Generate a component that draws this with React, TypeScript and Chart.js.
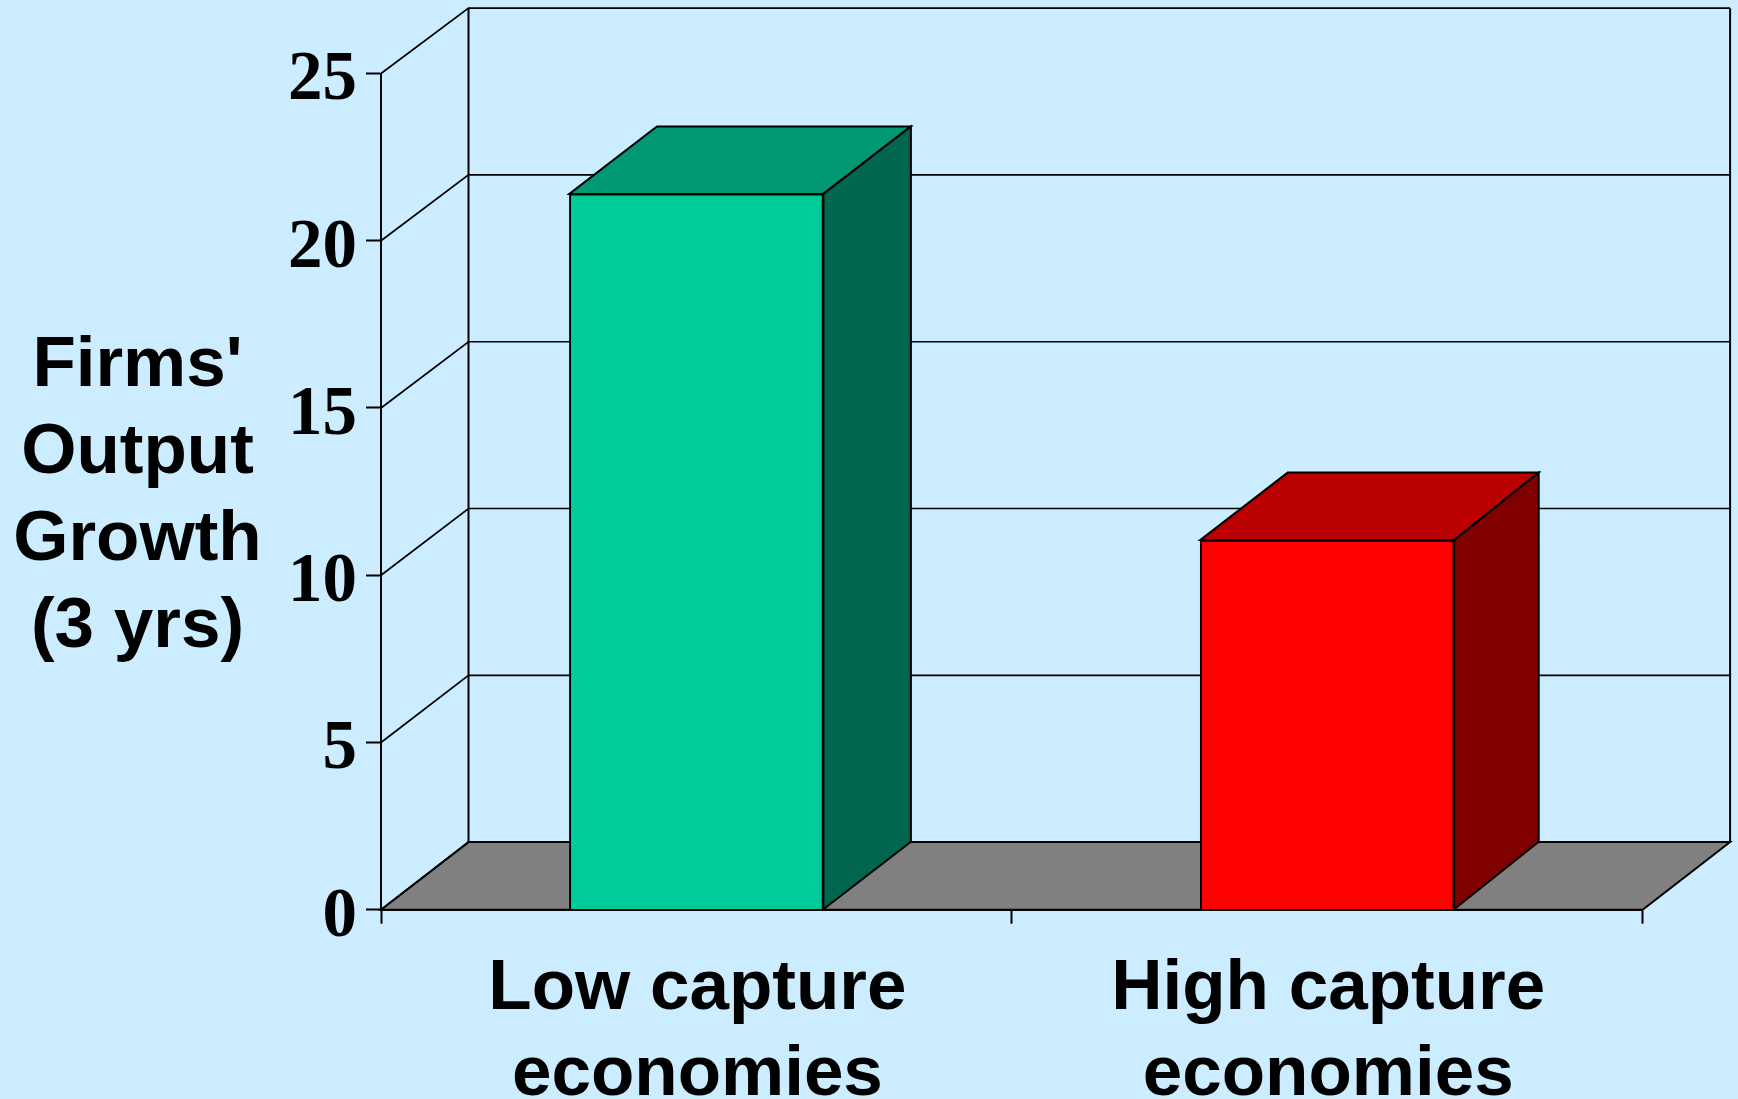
import React, { useEffect, useRef } from "react";
import { Chart, registerables } from "chart.js";

Chart.register(...registerables);

const categories = [["Low capture", "economies"], ["High capture", "economies"]];
const growthValues = [21.4, 11.05];
const frontColors = ["#00CC99", "#FF0000"];
const topColors = ["#009973", "#BB0000"];
const sideColors = ["#00664D", "#800000"];
const yTicks = [0, 5, 10, 15, 20, 25];
const yTitleLines = ["Firms'", "Output", "Growth", "(3 yrs)"];

const BG = "#CCECFF";
const FLOOR = "#808080";
const DX = 87.5;
const BAR_RIGHT_DX = [87.5, 84.5];
const BAR_DY = -67.5;
const wallDy = (v: number) => -67.6 + 0.09 * v;
const BOLD_SANS = "bold 71px 'Liberation Sans'";

const poly = (ctx: CanvasRenderingContext2D, pts: number[][], fill: string | null) => {
  ctx.beginPath();
  pts.forEach((p, i) => (i ? ctx.lineTo(p[0], p[1]) : ctx.moveTo(p[0], p[1])));
  ctx.closePath();
  if (fill) {
    ctx.fillStyle = fill;
    ctx.fill();
  }
  ctx.stroke();
};

const box3d = {
  id: "box3d",
  beforeDatasetsDraw(chart: any) {
    const { ctx, chartArea: a, scales } = chart;
    const y = scales.y;
    const floorDy = wallDy(0);
    const topDy = wallDy(25);
    ctx.save();
    ctx.strokeStyle = "#000";
    ctx.lineWidth = 2;
    ctx.lineJoin = "miter";
    // floor
    poly(ctx, [[a.left, a.bottom], [a.left + DX, a.bottom + floorDy], [a.right + DX, a.bottom + floorDy], [a.right, a.bottom]], FLOOR);
    // back wall verticals
    ctx.beginPath();
    ctx.moveTo(a.left + DX, a.top + topDy);
    ctx.lineTo(a.left + DX, a.bottom + floorDy);
    ctx.moveTo(a.right + DX, a.top + topDy);
    ctx.lineTo(a.right + DX, a.bottom + floorDy);
    ctx.stroke();
    // side-wall diagonals and back-wall gridlines
    ctx.lineWidth = 1.7;
    yTicks.forEach((v) => {
      const py = y.getPixelForValue(v);
      const d = wallDy(v);
      ctx.beginPath();
      ctx.moveTo(a.left, py);
      ctx.lineTo(a.left + DX, py + d);
      if (v > 0) ctx.lineTo(a.right + DX, py + d);
      ctx.stroke();
    });
    ctx.lineWidth = 2;
    // bar top and side faces
    chart.getDatasetMeta(0).data.forEach((bar: any, i: number) => {
      const half = bar.width / 2;
      const l = bar.x - half;
      const r = bar.x + half;
      const t = bar.y;
      const b = bar.base;
      const rdx = BAR_RIGHT_DX[i];
      poly(ctx, [[l, t], [l + DX, t + BAR_DY], [r + rdx, t + BAR_DY], [r, t]], topColors[i]);
      poly(ctx, [[r, t], [r + rdx, t + BAR_DY], [r + rdx, b + BAR_DY], [r, b]], sideColors[i]);
    });
    ctx.restore();
  },
  afterDraw(chart: any) {
    const { ctx } = chart;
    ctx.save();
    ctx.fillStyle = "#000";
    ctx.font = BOLD_SANS;
    ctx.textAlign = "center";
    ctx.textBaseline = "alphabetic";
    yTitleLines.forEach((line, i) => ctx.fillText(line, 137.5, 386 + i * 87));
    ctx.restore();
  },
};

export default function App() {
  const ref = useRef<HTMLCanvasElement>(null);
  useEffect(() => {
    document.body.style.margin = "0";
    document.body.style.background = BG;
    const chart = new Chart(ref.current!, {
      type: "bar",
      data: {
        labels: categories as any,
        datasets: [
          {
            data: growthValues,
            backgroundColor: frontColors,
            borderColor: "#000",
            borderWidth: 2,
            barThickness: 254,
          },
        ],
      },
      options: {
        responsive: false,
        animation: false,
        layout: { padding: { top: 73.5, right: 95.4, left: 0, bottom: 0 } },
        plugins: { legend: { display: false }, tooltip: { enabled: false }, title: { display: false } },
        scales: {
          x: {
            type: "category",
            offset: true,
            border: { display: true, color: "#000", width: 2 },
            grid: { display: true, drawOnChartArea: false, drawTicks: true, tickLength: 14, tickColor: "#000", tickWidth: 2 },
            ticks: {
              color: "#000",
              font: { family: "'Liberation Sans'", weight: "bold", size: 71, lineHeight: 1.22 },
              autoSkip: false,
              maxRotation: 0,
              minRotation: 0,
              padding: 22,
              labelOffset: 1,
            },
            afterFit(s: any) {
              s.height = 1099 - 909.7;
              s.paddingLeft = 0;
              s.paddingRight = 0;
            },
          },
          y: {
            min: 0,
            max: 25,
            border: { display: true, color: "#000", width: 2 },
            grid: { display: true, drawOnChartArea: false, drawTicks: true, tickLength: 15, tickColor: "#000", tickWidth: 2 },
            afterBuildTicks(s: any) {
              s.ticks = yTicks.map((value) => ({ value }));
            },
            ticks: {
              color: "#000",
              font: { family: "'Liberation Serif'", weight: "bold", size: 69 },
              padding: 9,
              labelOffset: 8,
            },
            afterFit(s: any) {
              s.width = 381;
              s.paddingTop = 0;
              s.paddingBottom = 0;
            },
          },
        },
      },
      plugins: [box3d],
    } as any);
    return () => chart.destroy();
  }, []);
  return (
    <div style={{ position: "fixed", left: 0, top: 0, width: 1738, height: 1099, background: BG, overflow: "hidden" }}>
      <canvas ref={ref} width={1738} height={1099} style={{ display: "block" }} />
    </div>
  );
}
